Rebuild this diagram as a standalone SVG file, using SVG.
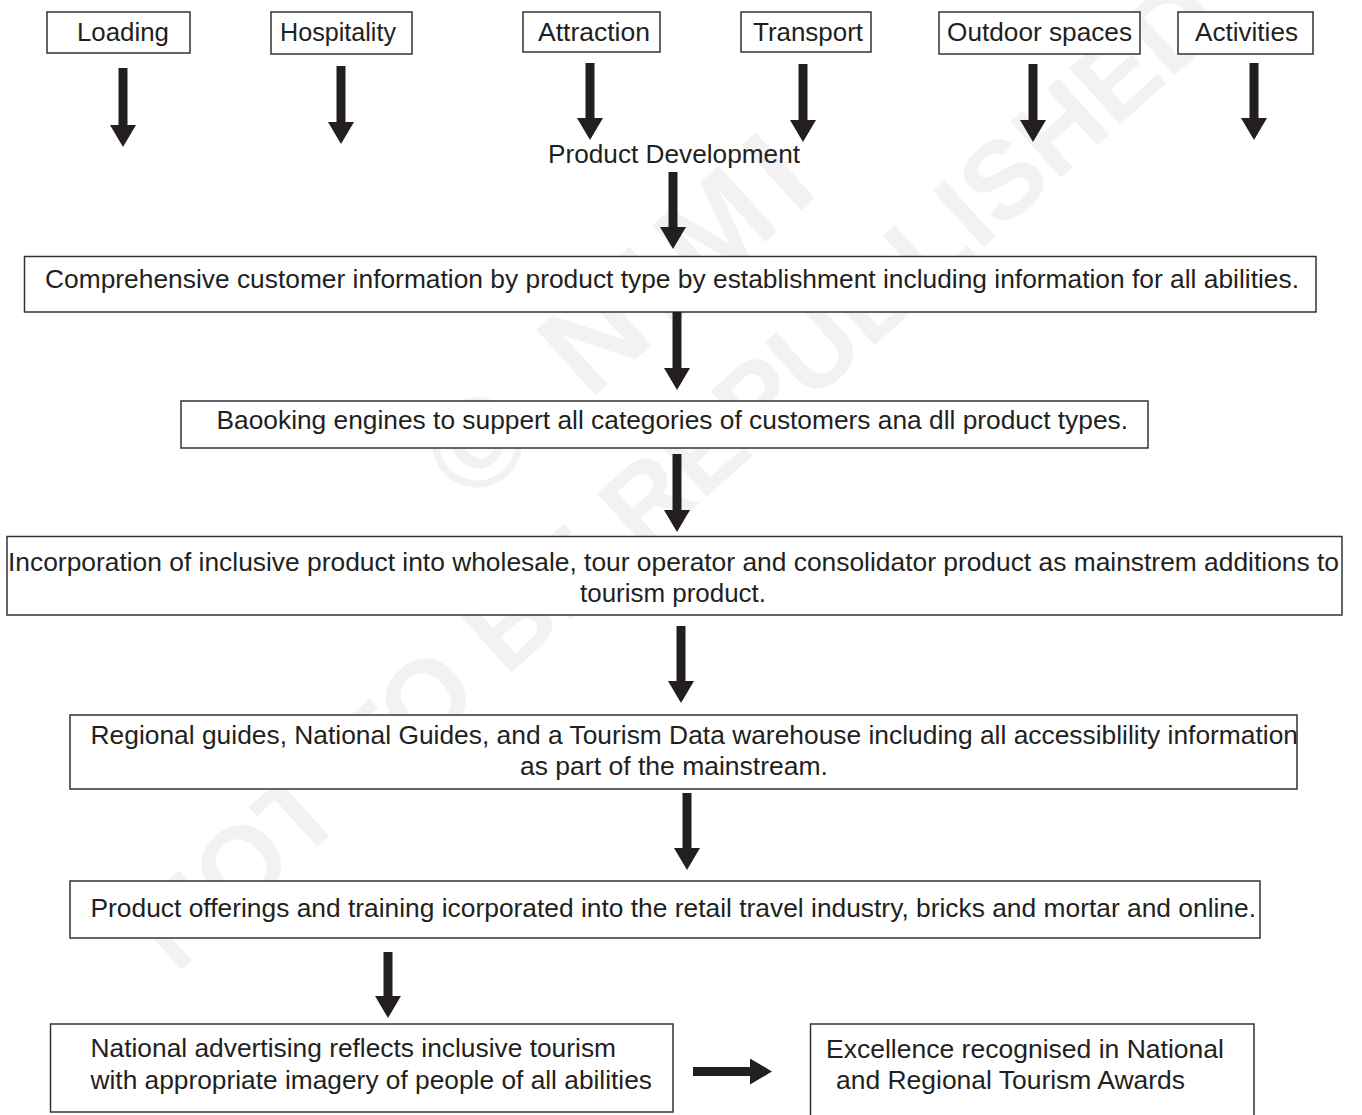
<svg xmlns="http://www.w3.org/2000/svg" width="1362" height="1115" viewBox="0 0 1362 1115">
  <defs>
    <style>
      .box { fill: #ffffff; stroke: #333333; stroke-width: 1.5; }
      .lbl { font-family: "Liberation Sans", Arial, sans-serif; font-size: 25.5px; fill: #231f20; }
      .txt { font-family: "Liberation Sans", Arial, sans-serif; font-size: 26px; fill: #231f20; }
      .shaft { stroke: #231f20; stroke-width: 9; fill: none; marker-end: url(#head); }
      .wm { font-family: "Liberation Sans", Arial, sans-serif; font-weight: bold; font-size: 110px; fill: #f2f2f2; text-anchor: middle; }
      .wm-big { font-size: 128px; }
    </style>
    <!-- solid triangular arrow head, sized in user units -->
    <marker id="head" viewBox="0 0 22 26" refX="0" refY="13" markerWidth="22" markerHeight="26" markerUnits="userSpaceOnUse" orient="auto">
      <path d="M0,0 L22,13 L0,26 Z" fill="#231f20"/>
    </marker>
  </defs>

  <rect width="1362" height="1115" fill="#ffffff"/>

  <!-- copyright watermark -->
  <g id="watermark" transform="translate(702,501) rotate(-42)">
    <text class="wm wm-big" x="60" y="-150" textLength="470" lengthAdjust="spacing">© NIMI</text>
    <text class="wm" x="0" y="0">NOT TO BE REPUBLISHED</text>
  </g>

  <!-- top row of inputs -->
  <g id="n-loading">
    <rect class="box" x="47" y="12" width="143" height="41"/>
    <text class="lbl" x="77" y="41" textLength="92" lengthAdjust="spacingAndGlyphs">Loading</text>
  </g>
  <g id="n-hospitality">
    <rect class="box" x="271" y="12" width="141" height="42"/>
    <text class="lbl" x="280" y="41" textLength="116" lengthAdjust="spacingAndGlyphs">Hospitality</text>
  </g>
  <g id="n-attraction">
    <rect class="box" x="523" y="12" width="137" height="40"/>
    <text class="lbl" x="538" y="41" textLength="112" lengthAdjust="spacingAndGlyphs">Attraction</text>
  </g>
  <g id="n-transport">
    <rect class="box" x="741" y="12" width="130" height="40"/>
    <text class="lbl" x="753" y="41" textLength="110" lengthAdjust="spacingAndGlyphs">Transport</text>
  </g>
  <g id="n-outdoor">
    <rect class="box" x="939" y="12" width="201" height="42"/>
    <text class="lbl" x="947" y="41" textLength="185" lengthAdjust="spacingAndGlyphs">Outdoor spaces</text>
  </g>
  <g id="n-activities">
    <rect class="box" x="1178" y="12" width="135" height="42"/>
    <text class="lbl" x="1195" y="41" textLength="103" lengthAdjust="spacingAndGlyphs">Activities</text>
  </g>

  <!-- hub label -->
  <g id="n-product-development">
    <text class="txt" x="548" y="163" textLength="252" lengthAdjust="spacingAndGlyphs">Product Development</text>
  </g>

  <!-- main chain -->
  <g id="n-customer-info">
    <rect class="box" x="24.5" y="256.5" width="1291.5" height="55.5"/>
    <text class="txt" x="45" y="288" textLength="1254" lengthAdjust="spacingAndGlyphs">Comprehensive customer information by product type by establishment including information for all abilities.</text>
  </g>
  <g id="n-booking">
    <rect class="box" x="181" y="401" width="967" height="47"/>
    <text class="txt" x="216.5" y="429" textLength="911.5" lengthAdjust="spacingAndGlyphs">Baooking engines to suppert all categories of customers ana dll product types.</text>
  </g>
  <g id="n-incorporation">
    <rect class="box" x="7" y="536.5" width="1335" height="78.5"/>
    <text class="txt" x="8" y="571" textLength="1331" lengthAdjust="spacingAndGlyphs">Incorporation of inclusive product into wholesale, tour operator and consolidator product as mainstrem additions to</text>
    <text class="txt" x="580" y="602" textLength="186" lengthAdjust="spacingAndGlyphs">tourism product.</text>
  </g>
  <g id="n-guides">
    <rect class="box" x="70" y="715" width="1227" height="74"/>
    <text class="txt" x="90.5" y="744" textLength="1207.5" lengthAdjust="spacingAndGlyphs">Regional guides, National Guides, and a Tourism Data warehouse including all accessiblility information</text>
    <text class="txt" x="520" y="775" textLength="308" lengthAdjust="spacingAndGlyphs">as part of the mainstream.</text>
  </g>
  <g id="n-retail">
    <rect class="box" x="70" y="881" width="1190" height="57"/>
    <text class="txt" x="90.5" y="917" textLength="1165.5" lengthAdjust="spacingAndGlyphs">Product offerings and training icorporated into the retail travel industry, bricks and mortar and online.</text>
  </g>
  <g id="n-advertising">
    <rect class="box" x="50.5" y="1024" width="622.5" height="88"/>
    <text class="txt" x="90.5" y="1057" textLength="525.5" lengthAdjust="spacingAndGlyphs">National advertising reflects inclusive tourism</text>
    <text class="txt" x="90.5" y="1089" textLength="561.5" lengthAdjust="spacingAndGlyphs">with appropriate imagery of people of all abilities</text>
  </g>
  <g id="n-awards">
    <rect class="box" x="810.5" y="1024" width="443.5" height="110"/>
    <text class="txt" x="826" y="1058" textLength="398" lengthAdjust="spacingAndGlyphs">Excellence recognised in National</text>
    <text class="txt" x="836" y="1089" textLength="349" lengthAdjust="spacingAndGlyphs">and Regional Tourism Awards</text>
  </g>

  <!-- connectors -->
  <g id="connectors">
    <line class="shaft" x1="123" y1="68" x2="123" y2="125"/>
    <line class="shaft" x1="341" y1="66" x2="341" y2="122"/>
    <line class="shaft" x1="590" y1="63" x2="590" y2="118"/>
    <line class="shaft" x1="803" y1="64" x2="803" y2="120"/>
    <line class="shaft" x1="1033" y1="64" x2="1033" y2="120"/>
    <line class="shaft" x1="1254" y1="63" x2="1254" y2="118"/>
    <line class="shaft" x1="673" y1="172" x2="673" y2="227"/>
    <line class="shaft" x1="677" y1="312" x2="677" y2="368"/>
    <line class="shaft" x1="677" y1="454" x2="677" y2="510"/>
    <line class="shaft" x1="681" y1="626" x2="681" y2="681"/>
    <line class="shaft" x1="687" y1="793" x2="687" y2="848"/>
    <line class="shaft" x1="388" y1="952" x2="388" y2="996"/>
    <line class="shaft" x1="693" y1="1071.5" x2="750" y2="1071.5"/>
  </g>
</svg>
